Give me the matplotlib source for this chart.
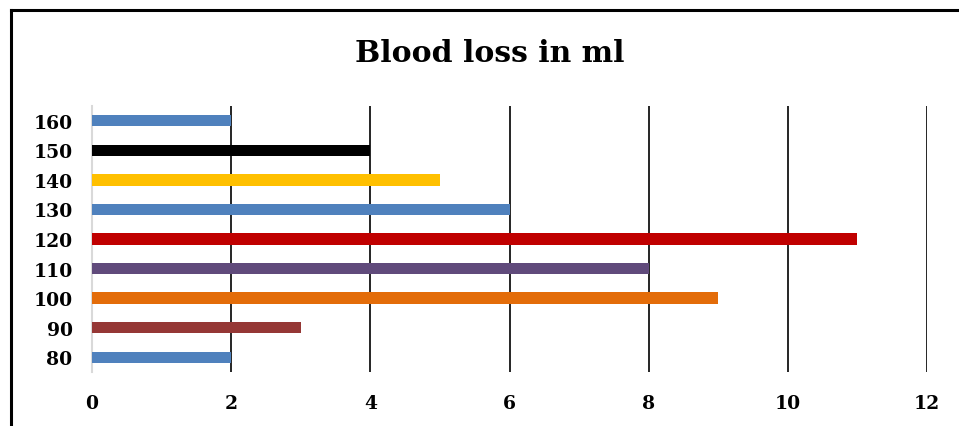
import matplotlib.pyplot as plt
from matplotlib.lines import Line2D

# blood loss chart
categories = ['80', '90', '100', '110', '120', '130', '140', '150', '160']
values = [2, 3, 9, 8, 11, 6, 5, 4, 2]
colors = ['#4F81BD', '#953735', '#E36C09', '#604A7B', '#C00000',
          '#4F81BD', '#FFC000', '#000000', '#4F81BD']
xticks = [0, 2, 4, 6, 8, 10, 12]

plt.rcParams['font.family'] = ['DejaVu Serif']
plt.rcParams['font.weight'] = 'bold'

W, H = 959, 427
fig = plt.figure(figsize=(W / 100, H / 100), dpi=100)
ax = fig.add_axes([92 / W, 1 - 373 / H, (927 - 92) / W, (373 - 107) / H])

pos = range(len(categories))
ax.barh(pos, values, height=0.38, color=colors, zorder=3)

ax.set_xlim(0, 12)
ax.set_ylim(-0.5, len(categories) - 0.5)
ax.set_xticks(xticks)
ax.set_xticklabels([str(t) for t in xticks], fontsize=13.5, fontweight='bold')
ax.set_yticks(list(pos))
ax.set_yticklabels(categories, fontsize=13.5, fontweight='bold')
ax.tick_params(length=0)
ax.tick_params(axis='x', pad=16)
ax.tick_params(axis='y', pad=14)

for s in ['top', 'right', 'bottom']:
    ax.spines[s].set_visible(False)
ax.spines['left'].set_color('#D9D9D9')
ax.spines['left'].set_linewidth(1.5)
for t in xticks[1:]:
    ax.axvline(t, color='black', linewidth=1.2, zorder=1)

fig.text(490 / W, 1 - 53 / H, 'Blood loss in ml', ha='center', va='center',
         fontsize=21.5, fontweight='bold')

# outer frame (left and top edges visible)
fig.add_artist(Line2D([11 / W, 11 / W], [0, 1 - 11 / H], transform=fig.transFigure,
                      color='black', linewidth=2.2))
fig.add_artist(Line2D([11 / W, 1], [1 - 11 / H, 1 - 11 / H], transform=fig.transFigure,
                      color='black', linewidth=2.2))

fig.savefig('out.png', dpi=100)
